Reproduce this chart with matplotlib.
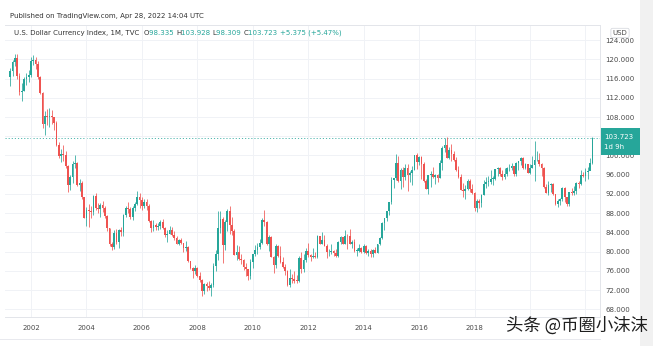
import matplotlib
matplotlib.use("Agg")
import matplotlib.pyplot as plt
from matplotlib.lines import Line2D
from matplotlib.patches import Rectangle

# monthly DXY bars, Apr 2001 .. Apr 2022 (open = previous close)
first_open = 116.3
closes = [
    117.5, 119.5, 120.2, 116.6, 113.3, 113.5, 115.8, 116.4, 116.8,              # 2001 Apr-Dec
    119.7, 119.9, 119.1, 116.4, 113.0, 106.5, 108.3, 108.0, 108.1, 108.0, 106.8, 102.2,  # 2002
    99.9, 100.4, 100.0, 97.8, 93.9, 95.6, 98.3, 98.4, 93.8, 94.3, 91.3, 86.9,   # 2003
    88.6, 88.5, 88.2, 91.5, 89.1, 88.9, 89.8, 89.1, 87.4, 84.9, 81.5, 80.9,     # 2004
    83.9, 82.0, 84.5, 84.1, 87.7, 89.1, 88.9, 87.3, 89.1, 89.9, 91.4, 90.8,     # 2005
    89.5, 90.3, 89.6, 86.3, 85.0, 85.5, 85.2, 85.4, 86.2, 85.0, 83.4, 83.7,     # 2006
    84.6, 83.5, 82.9, 81.6, 82.4, 81.8, 80.7, 80.9, 78.0, 76.6, 76.0, 76.7,     # 2007
    74.9, 74.1, 71.8, 73.3, 72.9, 72.5, 73.0, 77.1, 79.6, 84.9, 86.8, 81.4,     # 2008
    86.1, 88.4, 85.5, 84.4, 79.4, 80.0, 78.5, 78.3, 76.8, 76.5, 74.9, 77.9,     # 2009
    79.5, 80.3, 81.0, 81.8, 86.6, 86.2, 81.6, 83.1, 78.9, 77.2, 81.2, 79.0,     # 2010
    77.8, 76.9, 75.9, 73.0, 74.6, 74.3, 74.0, 73.9, 78.6, 76.4, 78.3, 80.2,     # 2011
    79.3, 78.9, 79.0, 78.8, 83.2, 81.6, 82.5, 81.2, 79.9, 79.9, 80.2, 79.8,     # 2012
    79.2, 82.0, 83.0, 81.7, 83.3, 83.2, 81.5, 82.1, 80.2, 80.2, 80.7, 80.0,     # 2013
    81.2, 79.7, 80.1, 79.5, 80.4, 79.8, 81.5, 82.8, 86.0, 87.0, 88.4, 90.3,     # 2014
    94.8, 95.3, 98.4, 94.6, 96.9, 95.5, 97.3, 96.0, 96.3, 97.0, 100.2, 98.6,    # 2015
    99.6, 98.2, 94.6, 93.1, 95.9, 96.1, 95.5, 96.0, 95.4, 98.4, 101.5, 102.2,   # 2016
    99.5, 101.1, 100.3, 99.0, 97.0, 95.6, 92.9, 92.7, 93.1, 94.6, 93.0, 92.1,   # 2017
    89.1, 90.6, 90.2, 91.8, 94.0, 94.5, 94.5, 95.1, 95.1, 97.1, 97.3, 96.2,     # 2018
    95.6, 96.2, 97.3, 97.5, 97.8, 96.1, 98.5, 98.9, 99.4, 97.4, 98.3, 96.4,     # 2019
    97.4, 98.1, 99.0, 99.0, 98.3, 97.4, 93.4, 92.1, 93.9, 94.0, 91.9, 89.9,     # 2020
    90.6, 90.9, 93.2, 91.3, 90.0, 92.4, 92.2, 92.6, 94.2, 94.1, 96.0, 95.7,     # 2021
    96.5, 96.7, 98.335, 103.723,                                                 # 2022 Jan-Apr
]
highs = [
    118.2, 119.9, 121.0, 121.0, 117.2, 115.0, 116.4, 117.1, 117.8,
    120.5, 120.9, 120.5, 119.6, 116.6, 113.2, 109.2, 109.7, 109.9, 109.5, 107.9, 107.1,
    102.8, 101.4, 102.2, 101.0, 98.0, 95.9, 98.8, 100.2, 98.6, 95.1, 94.7, 91.4,
    89.2, 89.9, 89.6, 91.8, 92.3, 90.1, 90.2, 90.6, 89.5, 87.6, 85.0, 82.0,
    84.5, 84.7, 84.8, 85.2, 87.9, 89.6, 90.4, 89.2, 89.5, 90.3, 92.6, 92.1,
    91.4, 91.0, 90.9, 89.9, 86.5, 86.6, 86.0, 86.0, 86.6, 86.7, 85.2, 84.6,
    85.4, 85.1, 84.3, 83.2, 82.6, 82.9, 81.9, 82.3, 81.1, 78.1, 76.8, 77.3,
    76.9, 75.8, 74.3, 73.5, 73.6, 73.9, 73.4, 77.7, 80.4, 88.5, 88.5, 87.3,
    86.5, 88.9, 89.6, 87.2, 84.7, 81.4, 81.1, 79.6, 78.4, 77.7, 76.4, 78.5,
    79.5, 81.3, 81.9, 82.7, 87.0, 88.7, 86.3, 83.5, 83.2, 79.1, 81.5, 81.4,
    81.1, 78.9, 77.4, 76.1, 76.5, 75.4, 76.0, 75.1, 79.0, 79.9, 79.5, 80.8,
    81.8, 79.6, 80.7, 80.0, 83.4, 83.0, 84.0, 83.5, 81.6, 80.5, 81.5, 80.4,
    80.6, 82.2, 83.2, 83.0, 84.5, 83.6, 84.8, 82.4, 82.6, 80.7, 81.5, 81.0,
    81.5, 81.3, 80.6, 80.5, 80.6, 81.0, 81.6, 83.1, 86.1, 87.1, 88.4, 90.4,
    95.5, 95.4, 100.4, 99.9, 97.5, 97.7, 98.2, 98.3, 96.7, 97.8, 100.2, 100.5,
    99.9, 99.8, 98.6, 95.2, 96.0, 96.7, 97.6, 96.2, 96.1, 99.1, 102.0, 103.7,
    103.8, 101.8, 102.3, 101.0, 99.6, 97.8, 96.2, 94.2, 93.8, 95.2, 95.1, 94.0,
    92.5, 90.9, 90.9, 91.9, 95.0, 95.5, 95.7, 96.9, 95.7, 97.2, 97.7, 97.7,
    97.0, 97.4, 97.7, 98.3, 98.4, 97.9, 98.7, 98.9, 99.7, 99.7, 98.5, 98.3,
    98.2, 99.9, 103.0, 100.9, 100.6, 98.5, 97.7, 94.0, 94.7, 94.3, 94.3, 92.0,
    91.0, 91.1, 93.4, 93.4, 91.4, 92.4, 93.2, 93.7, 94.5, 94.6, 96.9, 96.5,
    97.4, 97.7, 99.4, 103.928,
]
lows = [
    114.4, 116.5, 118.6, 115.8, 112.6, 111.3, 113.4, 114.6, 115.3,
    116.3, 118.9, 117.9, 115.9, 112.7, 105.8, 104.3, 106.3, 106.0, 106.6, 105.4, 101.9,
    99.4, 98.6, 98.9, 97.3, 92.4, 92.8, 94.3, 97.5, 93.6, 92.6, 90.9, 86.9,
    85.3, 85.1, 86.9, 87.6, 88.6, 88.0, 87.3, 88.3, 87.1, 84.4, 81.2, 80.4,
    80.5, 81.7, 80.7, 83.2, 83.3, 87.3, 88.0, 86.7, 86.6, 88.5, 89.7, 89.1,
    88.7, 89.0, 88.6, 86.1, 84.1, 84.2, 84.5, 84.5, 84.8, 84.7, 83.0, 82.0,
    83.6, 83.2, 82.4, 81.5, 81.3, 81.7, 80.0, 80.2, 77.8, 76.5, 74.5, 75.3,
    74.7, 73.7, 70.7, 71.3, 71.9, 72.0, 70.7, 72.7, 75.9, 78.3, 83.8, 77.7,
    80.4, 84.4, 83.6, 83.4, 79.3, 78.3, 78.2, 77.5, 76.1, 74.9, 74.2, 74.3,
    76.7, 79.0, 79.5, 80.5, 81.5, 85.3, 81.4, 80.1, 78.8, 75.6, 76.7, 78.9,
    77.6, 76.6, 75.2, 72.8, 72.7, 73.5, 73.4, 73.4, 73.7, 75.5, 75.7, 77.8,
    78.9, 78.1, 78.6, 78.6, 78.6, 81.5, 81.5, 81.1, 78.6, 79.0, 79.6, 79.0,
    78.9, 78.9, 81.6, 81.6, 81.6, 80.5, 81.5, 80.8, 79.9, 79.1, 79.9, 79.7,
    79.8, 79.6, 79.1, 78.9, 78.9, 79.7, 79.8, 81.3, 82.6, 84.5, 86.3, 87.6,
    90.0, 93.3, 94.9, 94.5, 93.1, 93.5, 95.0, 92.6, 94.5, 93.8, 96.9, 97.2,
    98.1, 95.2, 94.5, 93.1, 91.9, 93.4, 95.3, 94.0, 94.5, 95.4, 96.9, 100.8,
    99.4, 99.2, 98.8, 98.9, 96.8, 95.4, 92.9, 91.4, 90.9, 92.8, 92.5, 91.9,
    88.4, 88.3, 89.0, 89.2, 91.7, 93.2, 93.7, 94.1, 93.8, 94.8, 95.7, 95.8,
    95.0, 95.2, 95.7, 96.7, 97.0, 95.8, 95.8, 97.0, 98.1, 97.1, 97.1, 96.4,
    96.2, 97.4, 94.7, 98.8, 97.9, 95.7, 93.2, 92.1, 91.8, 92.5, 91.8, 89.7,
    89.2, 89.7, 90.6, 90.4, 89.5, 89.5, 91.8, 91.8, 91.9, 93.3, 93.9, 95.5,
    94.6, 95.1, 96.9, 98.309,
]
year_labels = ["2002", "2004", "2006", "2008", "2010", "2012", "2014", "2016", "2018", "", ""]
price_ticks = [68, 72, 76, 80, 84, 88, 92, 96, 100, 104, 108, 112, 116, 120, 124]
price_labels = ["68.000", "72.000", "76.000", "80.000", "84.000", "88.000", "92.000", "96.000",
                "100.000", "", "108.000", "112.000", "116.000", "120.000", "124.000"]
last_price = 103.723

opens = [first_open] + closes[:-1]
idx = list(range(len(closes)))

UP = "#26a69a"
DOWN = "#ef5350"
TXT = "#4a4a4a"
GRID = "#f0f2f6"
W, H = 653, 346

def fx(px):
    return px / W

def fy(py):
    return 1 - py / H

fig = plt.figure(figsize=(W / 100, H / 100), dpi=100)
fig.patch.set_facecolor("white")
ax = fig.add_axes([fx(5), fy(317), (600 - 5) / W, (317 - 25) / H])
ax.set_facecolor("white")

# candles
for i, o, h, l, c in zip(idx, opens, highs, lows, closes):
    col = UP if c >= o else DOWN
    ax.vlines(i, l, h, color=col, linewidth=0.55, zorder=2)
    ax.bar(i, max(abs(c - o), 0.12), bottom=min(o, c), width=0.75,
           color=col, linewidth=0, zorder=3)

ax.set_xlim(-2.25, 255.3)
ax.set_ylim(66.42, 127.13)

# last price dotted line
ax.axhline(last_price, color=UP, linestyle=(0, (1.2, 2.0)), linewidth=0.7, alpha=0.8, zorder=1)

# grid
year_pos = [9 + 24 * k for k in range(len(year_labels))]
ax.set_xticks(year_pos)
ax.set_xticklabels(year_labels, fontsize=5, color=TXT)
ax.set_yticks(price_ticks)
ax.set_yticklabels(price_labels, fontsize=5, color=TXT)
ax.yaxis.tick_right()
ax.tick_params(axis="both", length=0)
ax.tick_params(axis="y", pad=4)
ax.tick_params(axis="x", pad=6)
ax.grid(True, color=GRID, linewidth=0.7, zorder=0)
ax.spines["left"].set_visible(False)
for side in ["top", "right", "bottom"]:
    ax.spines[side].set_color("#e3e5ea")
    ax.spines[side].set_linewidth(0.7)

# extra frame lines
fig.add_artist(Line2D([fx(0), fx(600)], [fy(339), fy(339)], color="#e8e9ee", linewidth=0.7))
fig.add_artist(Rectangle((fx(640), 0), fx(13), 1, transform=fig.transFigure,
                         facecolor="#f1f1f1", edgecolor="none"))

# price tag
fig.add_artist(Rectangle((fx(601), fy(155)), fx(39), (155 - 128) / H, transform=fig.transFigure,
                         facecolor=UP, edgecolor="none", zorder=5))
fig.text(fx(604), fy(137), "%.3f" % last_price, fontsize=5, color="white", va="center", zorder=6)
fig.text(fx(604), fy(147), "1d 9h", fontsize=5, color="white", va="center", zorder=6)

# USD label
fig.text(fx(620), fy(33), "USD", fontsize=5, color=TXT, ha="center", va="center",
         bbox=dict(boxstyle="round,pad=0.25", facecolor="white", edgecolor="#d0d3da", linewidth=0.5))

# header
fig.text(fx(10), fy(16), "Published on TradingView.com, Apr 28, 2022 14:04 UTC",
         fontsize=5, color="#333333", va="center")
parts = [("U.S. Dollar Currency Index, 1M, TVC  ", "#333333"), ("O", "#333333"), ("98.335 ", UP),
         ("H", "#333333"), ("103.928 ", UP), ("L", "#333333"), ("98.309 ", UP),
         ("C", "#333333"), ("103.723 ", UP), ("+5.375 (+5.47%)", UP)]
fig.canvas.draw()
r = fig.canvas.get_renderer()
xpos = 14
for s, col in parts:
    t = fig.text(fx(xpos), fy(33), s, fontsize=5, color=col, va="center")
    xpos += t.get_window_extent(renderer=r).width

# watermark
fig.text(fx(506), fy(326), "头条 @币圈小沫沫", fontsize=12.5, color="#1e1e1e", va="center",
         family=["Noto Sans CJK SC", "DejaVu Sans"], zorder=10)

fig.savefig("out.png", dpi=100)
